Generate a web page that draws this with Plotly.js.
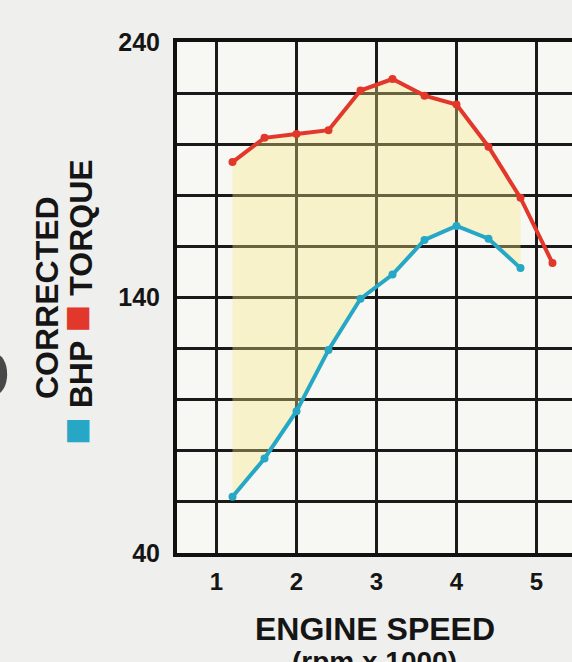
<!DOCTYPE html>
<html>
<head>
<meta charset="utf-8">
<script src="https://cdn.plot.ly/plotly-3.0.1.min.js"></script>
<style>
  html, body { margin: 0; padding: 0; background: #efefed; }
  #chart { width: 572px; height: 662px; }
</style>
</head>
<body>
<div id="chart"></div>
<script>
// Engine speed (rpm x 1000)
const rpm = [1.2, 1.6, 2.0, 2.4, 2.8, 3.2, 3.6, 4.0, 4.4, 4.8, 5.2];
// Corrected torque
const torque = [193, 202.5, 204, 205.5, 221, 225.5, 219, 215.5, 199, 179, 153.5];
// Corrected BHP
const bhpRpm = [1.2, 1.6, 2.0, 2.4, 2.8, 3.2, 3.6, 4.0, 4.4, 4.8];
const bhp = [62, 77, 95.5, 119.5, 139.5, 149, 162.5, 168, 163, 151.5];
// Y-axis grid values and labels
const yTickVals = [40, 60, 80, 100, 120, 140, 160, 180, 200, 220, 240];
const yTickText = ['40', '', '', '', '', '140', '', '', '', '', '240'];
const xTickVals = [1, 2, 3, 4, 5];
const xTickText = ['1', '2', '3', '4', '5'];

const RED = '#e2382c';
const BLUE = '#27a7c6';

// shaded band between the curves (torque values at the BHP rpm points)
const bandTop = torque.slice(0, bhpRpm.length);

const traces = [
  { x: bhpRpm, y: bandTop, mode: 'lines', line: { width: 0 }, hoverinfo: 'skip', showlegend: false },
  { x: bhpRpm, y: bhp, mode: 'lines', line: { width: 0 }, fill: 'tonexty',
    fillcolor: 'rgba(246,232,130,0.36)', hoverinfo: 'skip', showlegend: false },
  { x: rpm, y: torque, mode: 'lines+markers', name: 'TORQUE',
    line: { color: RED, width: 4 }, marker: { color: RED, size: 8 }, showlegend: false },
  { x: bhpRpm, y: bhp, mode: 'lines+markers', name: 'BHP',
    line: { color: BLUE, width: 4 }, marker: { color: BLUE, size: 8 }, showlegend: false }
];

const font = 'Liberation Sans, Arial, Helvetica, sans-serif';
const ink = '#151515';

const layout = {
  width: 572, height: 662,
  margin: { l: 177, r: 0, t: 42, b: 109 },
  paper_bgcolor: '#efefed',
  plot_bgcolor: '#f7f7f3',
  font: { family: font, color: ink },
  xaxis: {
    range: [0.506, 5.444],
    tickvals: xTickVals, ticktext: xTickText,
    showgrid: true, gridcolor: '#1a1a1a', gridwidth: 3,
    showline: true, linecolor: '#111', linewidth: 4, mirror: true,
    zeroline: false, ticks: '',
    ticklabelstandoff: 4,
    tickfont: { family: font, size: 24, color: ink, weight: 'bold' }
  },
  yaxis: {
    range: [40, 240],
    tickvals: yTickVals, ticktext: yTickText,
    showgrid: true, gridcolor: '#1a1a1a', gridwidth: 3,
    showline: true, linecolor: '#111', linewidth: 4, mirror: false,
    zeroline: false, ticks: '',
    ticklabelstandoff: 8,
    tickfont: { family: font, size: 25, color: ink, weight: 'bold' }
  },
  annotations: [
    { text: '<b>CORRECTED</b>', textangle: -90, xref: 'paper', yref: 'paper',
      x: -0.3304, y: 0.5, xanchor: 'center', yanchor: 'middle', showarrow: false,
      font: { family: font, size: 32, color: ink } },
    { text: '<b><span style="color:' + BLUE + ';font-size:46px">■</span> BHP <span style="color:' + RED + ';font-size:46px">■</span> TORQUE</b>',
      textangle: -90, xref: 'paper', yref: 'paper',
      x: -0.256, y: 0.491, xanchor: 'center', yanchor: 'middle', showarrow: false,
      font: { family: font, size: 32, color: ink } },
    { text: '<b>ENGINE SPEED</b>', xref: 'paper', yref: 'paper',
      x: 0.5, y: -0.1487, xanchor: 'center', yanchor: 'middle', showarrow: false,
      font: { family: font, size: 32, color: ink } },
    { text: '<b>(rpm x 1000)</b>', xref: 'paper', yref: 'paper',
      x: 0.5, y: -0.2114, xanchor: 'center', yanchor: 'middle', showarrow: false,
      font: { family: font, size: 28, color: ink } }
  ],
  shapes: [
    { type: 'circle', xref: 'paper', yref: 'paper', layer: 'above',
      x0: -0.49, x1: -0.43, y0: 0.31, y1: 0.39,
      fillcolor: '#2a2a2a', line: { width: 0 }, opacity: 0.85 }
  ]
};

Plotly.newPlot('chart', traces, layout, { staticPlot: true, displayModeBar: false });
</script>
</body>
</html>
